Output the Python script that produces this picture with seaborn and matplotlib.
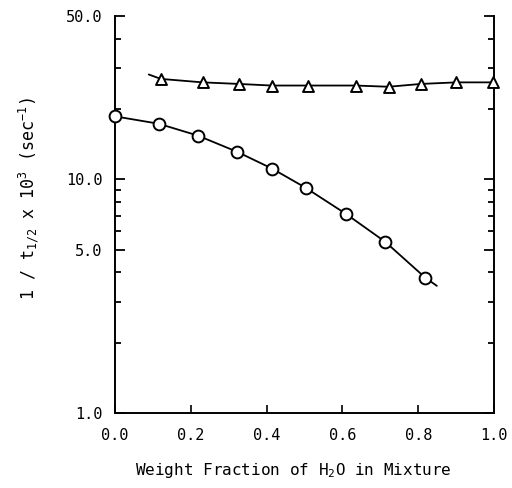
import numpy as np
import pandas as pd
import matplotlib
matplotlib.use('Agg')
import matplotlib.pyplot as plt
import seaborn as sns
from matplotlib.ticker import FixedLocator, FixedFormatter, NullFormatter

# =====================
# DATA
# =====================
circle_x = [0.00, 0.115, 0.218, 0.323, 0.415, 0.503, 0.610, 0.713, 0.818]
circle_y = [18.6, 17.3, 15.4, 13.1, 11.1, 9.2, 7.1, 5.4, 3.8]
circle_line_end = (0.849, 3.5)

tri_x = [0.121, 0.231, 0.327, 0.413, 0.509, 0.635, 0.722, 0.807, 0.900, 0.998]
tri_y = [26.9, 26.0, 25.6, 25.2, 25.2, 25.2, 24.9, 25.6, 26.0, 26.0]
tri_line_start = (0.089, 28.1)

y_major = [1, 5, 10, 50]
y_major_labels = ['1.0', '5.0', '10.0', '50.0']
y_minor = [2, 3, 4, 6, 7, 8, 9, 20, 30, 40]
x_ticks = [0.0, 0.2, 0.4, 0.6, 0.8, 1.0]
x_labels = ['0.0', '0.2', '0.4', '0.6', '0.8', '1.0']

circ_line = pd.DataFrame({'x': circle_x + [circle_line_end[0]],
                          'y': circle_y + [circle_line_end[1]]})
tri_line = pd.DataFrame({'x': [tri_line_start[0]] + tri_x,
                         'y': [tri_line_start[1]] + tri_y})

# =====================
# STYLE
# =====================
sns.set_style('ticks')
plt.rcParams['font.family'] = ['DejaVu Sans Mono']
plt.rcParams['mathtext.fontset'] = 'custom'
plt.rcParams['mathtext.rm'] = 'DejaVu Sans Mono'
plt.rcParams['mathtext.it'] = 'DejaVu Sans Mono'
plt.rcParams['mathtext.bf'] = 'DejaVu Sans Mono'
plt.rcParams['text.color'] = 'black'
plt.rcParams['axes.labelcolor'] = 'black'
plt.rcParams['xtick.color'] = 'black'
plt.rcParams['ytick.color'] = 'black'

fig = plt.figure(figsize=(5.12, 4.88), dpi=100)
ax = fig.add_axes([0.2246, 0.1537, 0.7404, 0.8135])

sns.lineplot(data=circ_line, x='x', y='y', ax=ax, sort=False,
             color='black', lw=1.3, estimator=None)
sns.lineplot(data=tri_line, x='x', y='y', ax=ax, sort=False,
             color='black', lw=1.3, estimator=None)
sns.scatterplot(x=circle_x, y=circle_y, ax=ax, marker='o', s=72,
                facecolor='white', edgecolor='black', linewidth=1.4,
                zorder=5, clip_on=False)
sns.scatterplot(x=tri_x, y=tri_y, ax=ax, marker='^', s=62,
                facecolor='white', edgecolor='black', linewidth=1.4,
                zorder=5, clip_on=False)

ax.set_yscale('log')
ax.set_ylim(1, 50)
ax.set_xlim(0, 1)

ax.yaxis.set_major_locator(FixedLocator(y_major))
ax.yaxis.set_major_formatter(FixedFormatter(y_major_labels))
ax.yaxis.set_minor_locator(FixedLocator(y_minor))
ax.yaxis.set_minor_formatter(NullFormatter())
ax.set_xticks(x_ticks)
ax.set_xticklabels(x_labels)

ax.tick_params(axis='y', which='major', direction='in', length=7, width=1.3,
               left=True, right=True, labelsize=11, pad=9)
ax.tick_params(axis='y', which='minor', direction='in', length=4.5, width=1.3,
               left=True, right=True)
ax.tick_params(axis='x', which='major', direction='in', length=6, width=1.2,
               bottom=True, top=False, labelsize=11, pad=11)

ax.spines['top'].set_visible(False)
for side in ['left', 'right', 'bottom']:
    ax.spines[side].set_linewidth(1.4)
    ax.spines[side].set_color('black')

ax.set_xlabel(r'Weight Fraction of H$_2$O in Mixture', fontsize=11.5, labelpad=13)
ax.set_ylabel(r'1 / t$_{1/2}$ x 10$^3$ (sec$^{-1}$)', fontsize=12, labelpad=18)
ax.xaxis.label.set_x(0.47)
ax.yaxis.label.set_y(0.54)

fig.savefig('out.png', dpi=100)
